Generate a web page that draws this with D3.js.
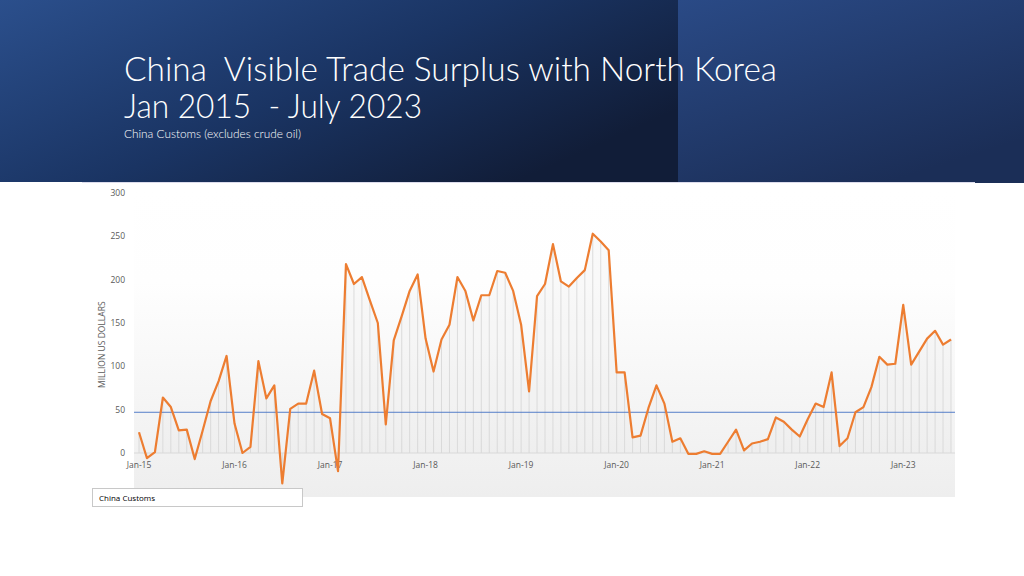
<!DOCTYPE html>
<html>
<meta charset="utf-8">
<style>
body { margin: 0; background: #fff; }
svg { display: block; }
.title { fill: #fff; font-family: Lato, "Open Sans", sans-serif; font-weight: 300; white-space: pre; }
.tick-label { font-family: "Open Sans", sans-serif; font-size: 8.5px; fill: #595959; }
.axis-title { font-family: "Open Sans", sans-serif; font-size: 8.5px; fill: #595959; }
.legend-text { font-family: "Open Sans", sans-serif; font-size: 8px; fill: #000; }
</style>
<body>
<script src="https://cdn.jsdelivr.net/npm/d3@7"></script>
<script>

// monthly surplus, million US$, Jan 2015 - Jul 2023
var y2015 = [24, -6, 1, 64, 53, 26, 27, -7, 26, 60, 83, 112];
var y2016 = [34, 0, 7, 106, 63, 78, -35, 51, 57, 57, 95, 45];
var y2017 = [40, -21, 218, 195, 203, 176, 150, 33, 130, 158, 187, 206];
var y2018 = [132, 94, 131, 148, 203, 187, 153, 182, 182, 210, 208, 187];
var y2019 = [148, 71, 181, 195, 241, 198, 192, 202, 211, 253, 244, 234];
var y2020 = [93, 93, 18, 20, 52, 78, 57, 13, 17, -1, -1, 2];
var y2021 = [-1, -1, 13, 27, 3, 11, 13, 16, 41, 36, 27, 19];
var y2022 = [39, 57, 53, 93, 8, 17, 47, 53, 76, 111, 102, 103];
var y2023 = [171, 102, 117, 132, 141, 125, 131];

var surplus = [].concat(y2015, y2016, y2017, y2018, y2019, y2020, y2021, y2022, y2023);
var refLine = 47;

var xTickLabels = ["Jan-15", "Jan-16", "Jan-17", "Jan-18", "Jan-19", "Jan-20", "Jan-21", "Jan-22", "Jan-23"];
var yTicks = [0, 50, 100, 150, 200, 250, 300];

var svg = d3.select("body").append("svg")
    .attr("width", 1024)
    .attr("height", 576);

var defs = svg.append("defs");

var hdr = defs.append("linearGradient").attr("id", "hdrLeft")
    .attr("x1", 0).attr("y1", 0).attr("x2", 1).attr("y2", 0.6);
hdr.append("stop").attr("offset", "0%").attr("stop-color", "#2b4f8c");
hdr.append("stop").attr("offset", "55%").attr("stop-color", "#1a3463");
hdr.append("stop").attr("offset", "100%").attr("stop-color", "#111d38");

var hdr2 = defs.append("linearGradient").attr("id", "hdrRight")
    .attr("x1", 0).attr("y1", 0).attr("x2", 0.6).attr("y2", 1);
hdr2.append("stop").attr("offset", "0%").attr("stop-color", "#2a4a86");
hdr2.append("stop").attr("offset", "100%").attr("stop-color", "#1b2e57");

var plotBg = defs.append("linearGradient").attr("id", "plotBg")
    .attr("x1", 0).attr("y1", 0).attr("x2", 0).attr("y2", 1);
plotBg.append("stop").attr("offset", "0%").attr("stop-color", "#ffffff");
plotBg.append("stop").attr("offset", "30%").attr("stop-color", "#fefefe");
plotBg.append("stop").attr("offset", "100%").attr("stop-color", "#eeeeee");

// header
svg.append("rect").attr("x", 0).attr("y", 0).attr("width", 678).attr("height", 182)
    .attr("fill", "url(#hdrLeft)");
svg.append("rect").attr("x", 678).attr("y", 0).attr("width", 346).attr("height", 183)
    .attr("fill", "url(#hdrRight)");

svg.append("text").attr("class", "title")
    .attr("x", 124).attr("y", 81)
    .attr("font-size", 33)
    .attr("textLength", 653).attr("lengthAdjust", "spacingAndGlyphs")
    .text("China  Visible Trade Surplus with North Korea");
svg.append("text").attr("class", "title")
    .attr("x", 124).attr("y", 118)
    .attr("font-size", 33)
    .attr("textLength", 298).attr("lengthAdjust", "spacingAndGlyphs")
    .text("Jan 2015  - July 2023");
svg.append("text").attr("class", "title")
    .attr("x", 124).attr("y", 138)
    .attr("font-size", 12)
    .attr("textLength", 177).attr("lengthAdjust", "spacingAndGlyphs")
    .text("China Customs (excludes crude oil)");

// chart box
svg.append("rect").attr("x", 82).attr("y", 182).attr("width", 893).attr("height", 330)
    .attr("fill", "#fff");
svg.append("line").attr("x1", 82).attr("x2", 975).attr("y1", 182.5).attr("y2", 182.5)
    .attr("stroke", "#dcdcec").attr("stroke-width", 1);

svg.append("rect").attr("x", 134).attr("y", 190).attr("width", 821).attr("height", 307)
    .attr("fill", "url(#plotBg)");

var x = d3.scaleLinear().domain([0, surplus.length - 1]).range([139, 951]);
var y = d3.scaleLinear().domain([0, 300]).range([453, 193]);

var plot = svg.append("g");

// faint area under the line
plot.append("path")
    .datum(surplus)
    .attr("fill", "#e8e8e8")
    .attr("fill-opacity", 0.2)
    .attr("d", d3.area()
        .x(function(d, i) { return x(i); })
        .y0(y(0))
        .y1(function(d) { return y(d); }));

// drop lines
plot.selectAll(".drop")
    .data(surplus)
    .enter()
    .append("line")
    .attr("class", "drop")
    .attr("x1", function(d, i) { return x(i); })
    .attr("x2", function(d, i) { return x(i); })
    .attr("y1", y(0))
    .attr("y2", function(d) { return y(d); })
    .attr("stroke", "#d4d4d4")
    .attr("stroke-width", 0.8);

// zero axis
plot.append("line")
    .attr("x1", 134).attr("x2", 955)
    .attr("y1", y(0)).attr("y2", y(0))
    .attr("stroke", "#d9d9d9");

// y labels
plot.selectAll(".ylab")
    .data(yTicks)
    .enter()
    .append("text")
    .attr("class", "tick-label")
    .attr("x", 125)
    .attr("y", function(d) { return y(d) + 3; })
    .attr("text-anchor", "end")
    .text(function(d) { return d; });

// x labels
plot.selectAll(".xlab")
    .data(xTickLabels)
    .enter()
    .append("text")
    .attr("class", "tick-label")
    .attr("x", function(d, i) { return x(i * 12); })
    .attr("y", 468)
    .attr("text-anchor", "middle")
    .text(function(d) { return d; });

svg.append("text")
    .attr("class", "axis-title")
    .attr("transform", "translate(105," + y(125) + ") rotate(-90)")
    .attr("text-anchor", "middle")
    .text("MILLION US DOLLARS");

// reference line
plot.append("line")
    .attr("x1", 134).attr("x2", 955)
    .attr("y1", y(refLine)).attr("y2", y(refLine))
    .attr("stroke", "#4472c4").attr("stroke-width", 0.9);

// series
plot.append("path")
    .datum(surplus)
    .attr("fill", "none")
    .attr("stroke", "#ed7d31")
    .attr("stroke-width", 2.2)
    .attr("stroke-linejoin", "round")
    .attr("d", d3.line()
        .x(function(d, i) { return x(i); })
        .y(function(d) { return y(d); }));

// legend
svg.append("rect").attr("x", 92.5).attr("y", 488.5).attr("width", 210).attr("height", 18)
    .attr("fill", "#fff").attr("stroke", "#c8c8c8");
svg.append("text").attr("class", "legend-text")
    .attr("x", 99).attr("y", 501)
    .text("China Customs");

</script>
</body>
</html>
